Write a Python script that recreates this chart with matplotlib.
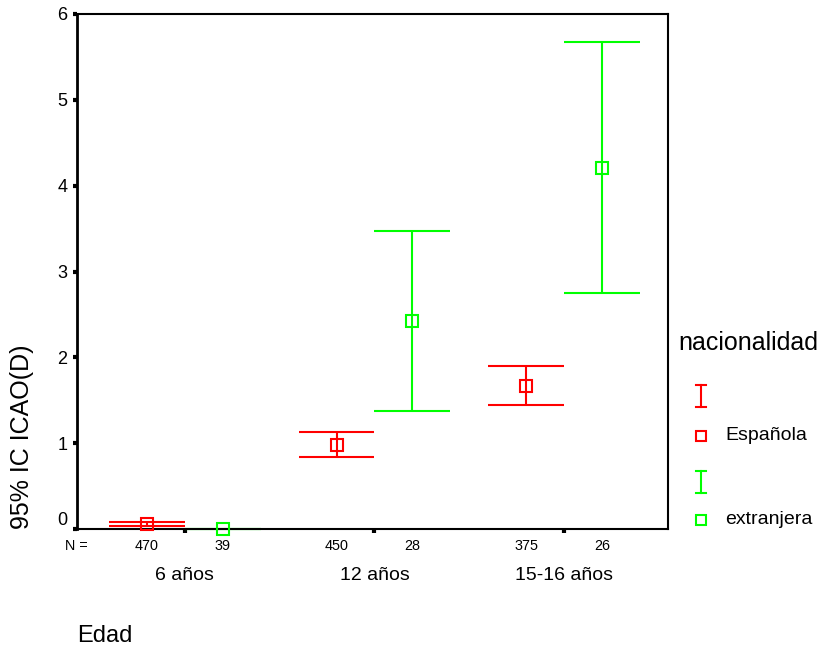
import matplotlib
matplotlib.use("Agg")
import matplotlib.pyplot as plt
from matplotlib.lines import Line2D

plt.rcParams['font.family'] = ['Liberation Sans', 'DejaVu Sans']

# ---- data ----
categories = ['6 años', '12 años', '15-16 años']
groups = ['Española', 'extranjera']
colors = ['#ff0000', '#00ff00']
n_esp = [470, 450, 375]
n_ext = [39, 28, 26]
mean_esp = [0.06, 0.98, 1.67]
low_esp = [0.035, 0.84, 1.44]
high_esp = [0.085, 1.13, 1.90]
mean_ext = [0.0, 2.42, 4.21]
low_ext = [0.0, 1.38, 2.75]
high_ext = [0.0, 3.47, 5.67]
yticks = [0, 1, 2, 3, 4, 5, 6]

W, H = 820, 652
fig = plt.figure(figsize=(W / 100, H / 100), dpi=100)
L, R, T, B = 77, 668, 14, 529
ax = fig.add_axes([L / W, 1 - B / H, (R - L) / W, (B - T) / H])

xc = [1, 2, 3]
off = 0.2
series = [(mean_esp, low_esp, high_esp, n_esp), (mean_ext, low_ext, high_ext, n_ext)]
for gi, (m, lo, hi, n) in enumerate(series):
    col = colors[gi]
    sgn = -1 if gi == 0 else 1
    xs = [c + sgn * off for c in xc]
    ax.vlines(xs, lo, hi, colors=col, lw=1.5, zorder=2, clip_on=False)
    ax.hlines(lo, [x - off for x in xs], [x + off for x in xs], colors=col, lw=1.5, zorder=2, clip_on=False)
    ax.hlines(hi, [x - off for x in xs], [x + off for x in xs], colors=col, lw=1.5, zorder=2, clip_on=False)
    ax.plot(xs, m, ls='none', marker='s', ms=8.5, mfc='none', mec=col, mew=1.5, zorder=3, clip_on=False)
    for x, nn in zip(xs, n):
        ax.annotate(str(nn), xy=(x, 0), xycoords=('data', 'axes fraction'),
                    xytext=(0, -17), textcoords='offset pixels',
                    ha='center', va='center', fontsize=10.4)

for c, lab in zip(xc, categories):
    ax.annotate(lab, xy=(c, 0), xycoords=('data', 'axes fraction'),
                xytext=(0, -47), textcoords='offset pixels',
                ha='center', va='center', fontsize=14)
ax.annotate('N =', xy=(0, 0), xycoords='axes fraction', xytext=(-1, -17),
            textcoords='offset pixels', ha='center', va='center', fontsize=10.4)

ax.set_xlim(0.434, 3.545)
ax.set_ylim(0, 6)
ax.set_xticks(xc)
ax.set_xticklabels([])
ax.set_yticks(yticks)
ax.set_yticklabels([str(v) for v in yticks], fontsize=13)
ax.tick_params(axis='both', direction='out', length=3, width=3, color='black', pad=4)
ylabels = ax.get_yticklabels()
ylabels[0].set_verticalalignment('bottom')

for side in ['top', 'right', 'bottom']:
    ax.spines[side].set_linewidth(1.5)
ax.spines['left'].set_linewidth(2)
for s in ax.spines.values():
    s.set_zorder(2.5)

fig.text(22 / W, 1 - 437 / H, '95% IC ICAO(D)', rotation=90, ha='center', va='center', fontsize=18)
fig.text(77 / W, 1 - 636 / H, 'Edad', ha='left', va='center', fontsize=17)

# ---- legend ----
def fx(x):
    return x / W

def fy(y):
    return 1 - y / H

fig.text(fx(678), fy(343), 'nacionalidad', ha='left', va='center', fontsize=18)
leg_rows = [(385, 407, 436), (471, 493, 520)]
for gi, (ytop, ybot, ysq) in enumerate(leg_rows):
    col = colors[gi]
    xm = 701
    fig.add_artist(Line2D([fx(xm), fx(xm)], [fy(ytop), fy(ybot)], color=col, lw=1.5))
    fig.add_artist(Line2D([fx(xm - 5), fx(xm + 5)], [fy(ytop), fy(ytop)], color=col, lw=1.5))
    fig.add_artist(Line2D([fx(xm - 5), fx(xm + 5)], [fy(ybot), fy(ybot)], color=col, lw=1.5))
    fig.add_artist(Line2D([fx(xm)], [fy(ysq)], ls='none', marker='s', ms=7.5, mfc='none', mec=col, mew=1.5))
    fig.text(fx(725), fy(ysq - 1), groups[gi], ha='left', va='center', fontsize=14)

fig.savefig('out.png', dpi=100)
